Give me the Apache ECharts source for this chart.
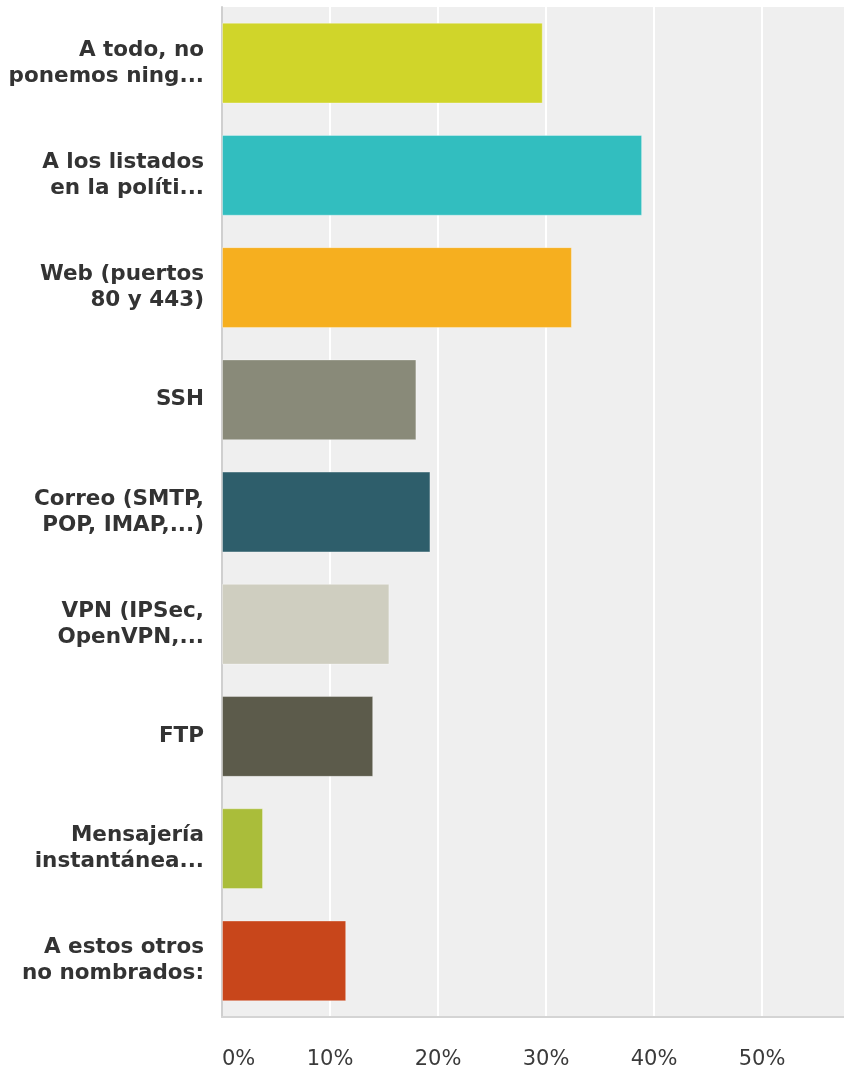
<!DOCTYPE html>
<html>
<head>
<meta charset="utf-8">
<title>Puertos</title>
<script src="https://cdn.jsdelivr.net/npm/echarts@6/dist/echarts.min.js"></script>
<style>
  html, body { margin: 0; padding: 0; background: #fff; }
  #chart { width: 844px; height: 1071px; }
</style>
</head>
<body>
<div id="chart"></div>
<script>
// categorías (eje vertical, de arriba a abajo)
const categories = [
  'A todo, no\nponemos ning...',
  'A los listados\nen la políti...',
  'Web (puertos\n80 y 443)',
  'SSH',
  'Correo (SMTP,\nPOP, IMAP,...)',
  'VPN (IPSec,\nOpenVPN,...',
  'FTP',
  'Mensajería\ninstantánea...',
  'A estos otros\nno nombrados:'
]

// porcentaje de respuestas
const values = [29.7, 38.9, 32.4, 18.0, 19.3, 15.5, 14.0, 3.8, 11.5]

// color de cada barra
const barColors = ['#d0d52a', '#32bebf', '#f6af1f', '#898a79', '#2e5e6b', '#cfcec0', '#5c5b4b', '#aabd3a', '#c8461b']

// marcas del eje horizontal
const xTicks = [0, 10, 20, 30, 40, 50, 60]

const chart = echarts.init(document.getElementById('chart'))

const option = {
  animation: false,
  grid: {
    left: 222,
    top: 7,
    height: 1010,
    width: 648,
    outerBoundsMode: 'none',
    containLabel: false,
    show: true,
    backgroundColor: '#efefef',
    borderWidth: 0
  },
  xAxis: {
    type: 'value',
    min: xTicks[0],
    max: xTicks[xTicks.length - 1],
    interval: 10,
    axisLine: { show: true, lineStyle: { color: '#d4d4d4', width: 2 } },
    axisTick: { show: false },
    splitLine: { show: true, lineStyle: { color: '#ffffff', width: 2 } },
    axisLabel: {
      margin: 32,
      fontFamily: 'DejaVu Sans, sans-serif',
      fontSize: 21,
      color: '#3a3a3a',
      alignMinLabel: 'left',
      formatter: (v) => v + '%'
    }
  },
  yAxis: {
    type: 'category',
    inverse: true,
    data: categories,
    axisLine: { show: true, lineStyle: { color: '#cfcfcf', width: 2 } },
    axisTick: { show: false },
    axisLabel: {
      margin: 18,
      fontFamily: 'DejaVu Sans, sans-serif',
      fontSize: 21.5,
      fontWeight: 'bold',
      lineHeight: 26,
      color: '#333333',
      align: 'right'
    }
  },
  series: [
    {
      type: 'bar',
      barCategoryGap: '28%',
      data: values.map((v, i) => ({
        value: v,
        itemStyle: {
          color: barColors[i],
          borderColor: 'rgba(255,255,255,0.35)',
          borderWidth: 1
        }
      }))
    }
  ]
}

chart.setOption(option)
</script>
</body>
</html>
